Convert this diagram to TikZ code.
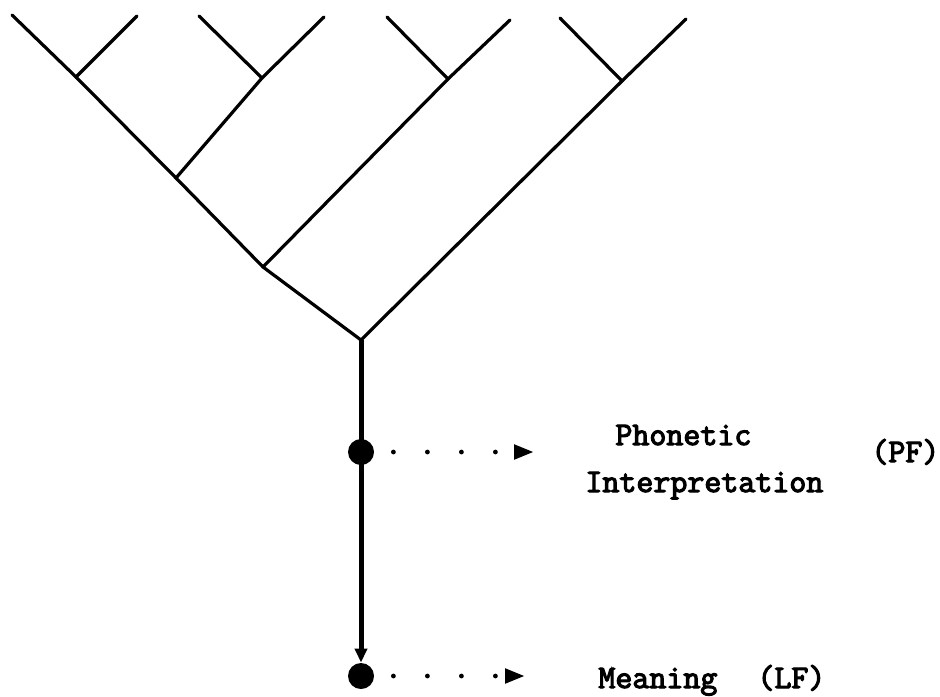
\documentclass[tikz,border=0pt]{standalone}
\usepackage{fontspec}
\newfontfamily\glossfont{Latin Modern Mono}[FakeBold=3.5]
\usetikzlibrary{arrows.meta,positioning}

\tikzset{
  branch/.style={line width=1.6pt, line cap=round},
  stem/.style={line width=2.5pt},
  spellout/.style={circle, fill=black, inner sep=0pt, minimum size=13pt},
  interp/.style={line width=2.4pt, line cap=round, dash pattern=on 0pt off 17pt,
    shorten <=9.5pt, -{Triangle[length=10pt,width=7pt]}},
  lbl/.style={font=\fontsize{16.5}{20}\selectfont\glossfont, inner sep=0pt, anchor=base west},
}

\begin{document}
\begin{tikzpicture}[x=0.5pt, y=-0.5pt]
\useasboundingbox (0,0) rectangle (940,696);
% tree
\coordinate (root) at (361,340);
\coordinate (n3) at (263,267);
\coordinate (n2) at (176,178);
\coordinate (v1) at (76,77);
\coordinate (v2) at (262,78);
\coordinate (v3) at (448,79);
\coordinate (v4) at (622,81);
\coordinate (l1) at (12,15);
\coordinate (l2) at (137,16);
\coordinate (l3) at (199,16);
\coordinate (l4) at (324,17);
\coordinate (l5) at (387,17);
\coordinate (l6) at (510,20);
\coordinate (l7) at (560,18);
\coordinate (l8) at (686,19);
\draw[branch] (root) -- (n3) -- (n2) -- (v1) -- (l1);
\draw[branch] (v1) -- (l2);
\draw[branch] (n2) -- (v2) -- (l4);
\draw[branch] (v2) -- (l3);
\draw[branch] (n3) -- (v3) -- (l6);
\draw[branch] (v3) -- (l5);
\draw[branch] (root) -- (v4) -- (l8);
\draw[branch] (v4) -- (l7);
% spell-out points
\node[spellout] (pfdot) at (361,452) {};
\node[spellout] (lfdot) at (361,676) {};
\draw[stem, -{Triangle[length=7pt,width=6pt]}] (root) -- (lfdot.north);
\coordinate (pftip) at (534,452);
\coordinate (lftip) at (525,676);
\draw[interp] (pfdot.east) -- (pftip);
\draw[interp] (lfdot.east) -- (lftip);
% labels
\node[lbl] (phon) at (615,445) {Phonetic};
\node[lbl] (interp) at (585,492) {Interpretation};
\node[lbl] (pf) at (871,462) {(PF)};
\node[lbl] (mean) at (598,688) {Meaning};
\node[lbl] (lf) at (757,688) {(LF)};
\end{tikzpicture}
\end{document}
